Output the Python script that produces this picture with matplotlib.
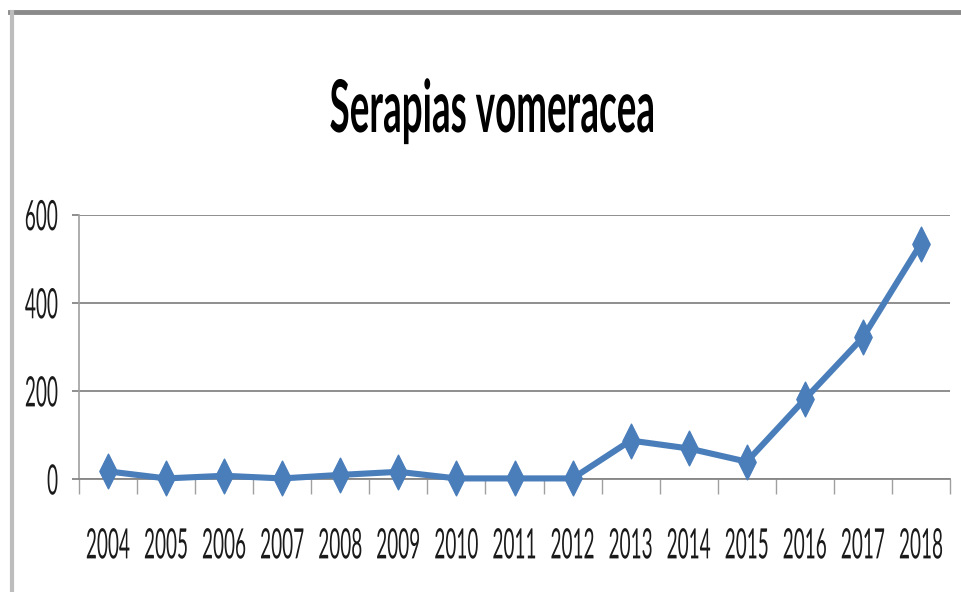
import matplotlib
matplotlib.use("Agg")
import matplotlib.pyplot as plt
from matplotlib.patheffects import AbstractPathEffect
from matplotlib.transforms import Affine2D
from matplotlib.path import Path
from matplotlib.lines import Line2D

# ---- data ----
years = ["2004", "2005", "2006", "2007", "2008", "2009", "2010", "2011",
         "2012", "2013", "2014", "2015", "2016", "2017", "2018"]
counts = [18, 2, 8, 2, 10, 17, 2, 2, 2, 88, 70, 40, 182, 322, 535]
yticks = [0, 200, 400, 600]
title = "Serapias vomeracea"

W, H = 961, 592
FONT = ["Lato", "DejaVu Sans"]
LINE_COLOR = "#4a7ebb"
GRID_COLOR = "#868686"
CAP = 0.7165  # Lato cap/figure height in em


class Stretch(AbstractPathEffect):
    """Stretch rendered glyphs vertically (text stays a Text artist)."""
    def __init__(self, sy, anchor="center"):
        super().__init__()
        self.sy = sy
        self.anchor = anchor

    def draw_path(self, renderer, gc, tpath, affine, rgbFace=None):
        ext = tpath.get_extents(affine)
        cx = (ext.x0 + ext.x1) / 2
        if self.anchor == "baseline":
            cy = affine.transform_point((0, 0))[1]
        else:
            cy = (ext.y0 + ext.y1) / 2
        a = affine + Affine2D().translate(-cx, -cy).scale(1, self.sy).translate(cx, cy)
        renderer.draw_path(gc, tpath, a, rgbFace)


fig = plt.figure(figsize=(W / 100, H / 100), dpi=100)
fig.patch.set_facecolor("white")

# axes placement (pixels -> fraction)
left_px, right_px, top_px, bottom_px = 79, 950, 215, 479.3
ax = fig.add_axes([left_px / W, 1 - bottom_px / H,
                   (right_px - left_px) / W, (bottom_px - top_px) / H])

x = list(range(len(years)))
diamond = Path([(0, 1), (0.5, 0), (0, -1), (-0.5, 0), (0, 1)],
               [Path.MOVETO, Path.LINETO, Path.LINETO, Path.LINETO, Path.CLOSEPOLY])
ax.plot(x, counts, color=LINE_COLOR, lw=4.4, marker=diamond, markersize=25,
        markerfacecolor=LINE_COLOR, markeredgecolor=LINE_COLOR, zorder=3,
        solid_joinstyle="round", clip_on=False)

ax.set_xlim(-0.5, len(years) - 0.5)
ax.set_ylim(0, 600)
ax.set_yticks(yticks)
ax.set_yticklabels([str(v) for v in yticks])
ax.set_xticks(x)
ax.set_xticklabels(years)
ax.set_xticks([i - 0.5 for i in range(len(years) + 1)], minor=True)

ax.grid(axis="y", color=GRID_COLOR, lw=1.3, zorder=1)
ax.set_axisbelow(True)
for s in ("top", "right"):
    ax.spines[s].set_visible(False)
ax.spines["left"].set_color("#a0a0a0")
ax.spines["left"].set_linewidth(1.2)
ax.spines["bottom"].set_color(GRID_COLOR)
ax.spines["bottom"].set_linewidth(1.3)

ax.tick_params(axis="x", which="minor", length=11, width=1.0, color="#a0a0a0",
               direction="out")

for lab in ax.get_xticklabels() + ax.get_yticklabels():
    lab.set_family(FONT)

t = fig.text(492 / W, 1 - 132 / H, title, ha="center", va="baseline",
             fontsize=40, family=FONT, fontweight="bold", color="#000000")

# size texts so their widths match, then stretch glyphs vertically
fig.canvas.draw()
r = fig.canvas.get_renderer()
fs_title = 40 * 325 / t.get_window_extent(r).width
t.set_fontsize(fs_title)
t.set_path_effects([Stretch(52 / (CAP * fs_title * 100 / 72), anchor="baseline")])

probe = ax.get_xticklabels()[0]
probe.set_fontsize(20)
w20 = probe.get_window_extent(r).width
fs_tick = 20 * 44 / w20
sy_tick = 30 / (CAP * fs_tick * 100 / 72)
ink_half = CAP * fs_tick / 2  # points from layout top to digit centre (approx.)

ax.tick_params(axis="x", which="major", length=0, labelsize=fs_tick,
               pad=(543 - bottom_px) * 0.72 - ink_half, labelcolor="#1a1a1a")
ax.tick_params(axis="y", which="major", length=5, width=1.3, color=GRID_COLOR,
               pad=10, labelsize=fs_tick, labelcolor="#1a1a1a")
for lab in ax.get_xticklabels() + ax.get_yticklabels():
    lab.set_path_effects([Stretch(sy_tick)])

# screenshot-like frame borders
fig.add_artist(Line2D([10 / W, 1], [1 - 12 / H, 1 - 12 / H],
                      transform=fig.transFigure, color="#8a8a8a", lw=3.5))
fig.add_artist(Line2D([12 / W, 12 / W], [0, 1 - 12 / H],
                      transform=fig.transFigure, color="#bdbdbd", lw=3.0))

fig.savefig("out.png", dpi=100, facecolor="white")
